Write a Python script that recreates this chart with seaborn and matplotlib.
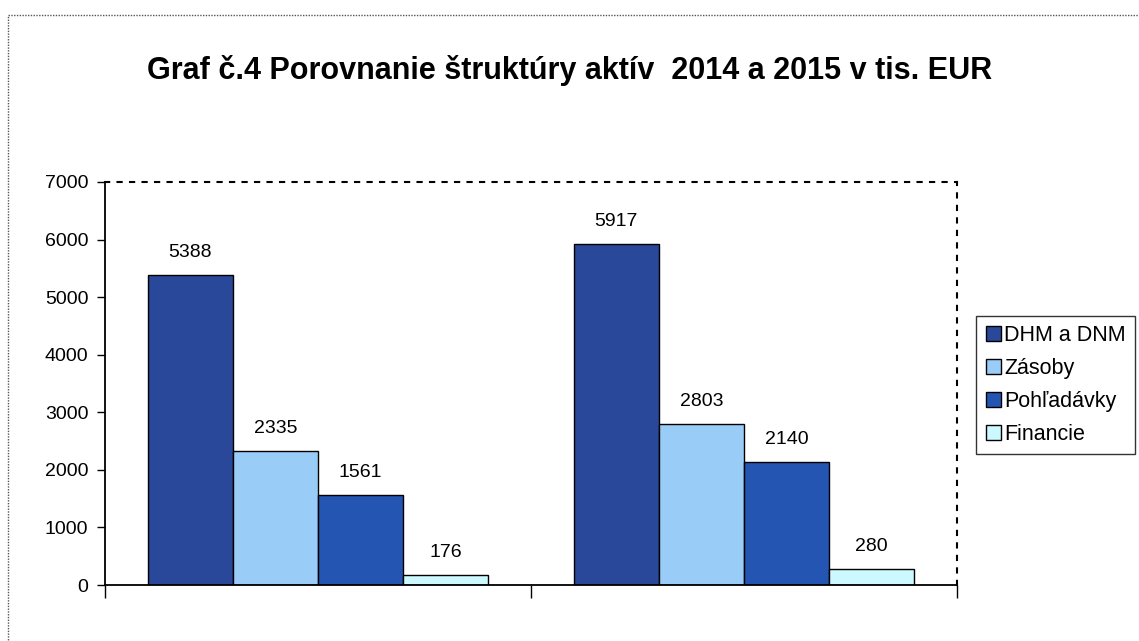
import pandas as pd
import seaborn as sns
import matplotlib.pyplot as plt
from matplotlib.patches import Rectangle, Patch

years = ['2014', '2015']
series = ['DHM a DNM', 'Zásoby', 'Pohľadávky', 'Financie']
dhm = [5388, 5917]
zasoby = [2335, 2803]
pohladavky = [1561, 2140]
financie = [176, 280]

colors = ['#29489a', '#99ccf7', '#2455b2', '#ccf8ff']

df = pd.DataFrame({
    'rok': years * 4,
    'polozka': [s for s in series for _ in years],
    'hodnota': dhm + zasoby + pohladavky + financie,
})

sns.set_style('white')
plt.rcParams['font.family'] = ['Liberation Sans', 'DejaVu Sans']
plt.rcParams['text.color'] = 'black'
plt.rcParams['xtick.color'] = 'black'
plt.rcParams['ytick.color'] = 'black'

fig = plt.figure(figsize=(11.39, 6.41), dpi=100)
ax = fig.add_axes([105 / 1139, 1 - 585 / 641, 852 / 1139, 403 / 641])

sns.barplot(data=df, x='rok', y='hodnota', hue='polozka', hue_order=series,
            palette=colors, width=0.8, edgecolor='black', linewidth=1,
            saturation=1, ax=ax, legend=False)

for cont in ax.containers:
    ax.bar_label(cont, padding=10, fontsize=14, color='black')

ax.set_xlim(-0.5, 1.5)
ax.set_ylim(0, 7000)
ax.set_yticks(range(0, 7001, 1000))
ax.tick_params(axis='y', labelsize=14, length=6, width=1, direction='out',
               left=True, color='black', labelcolor='black', pad=6)
ax.set_xticks([-0.5, 0.5, 1.5])
ax.set_xticklabels([])
ax.tick_params(axis='x', length=9, width=1, direction='out', bottom=True, color='black')
ax.set_xlabel('')
ax.set_ylabel('')

for side in ['left', 'bottom']:
    ax.spines[side].set_color('black')
    ax.spines[side].set_linewidth(1.3)
for side in ['top', 'right']:
    ax.spines[side].set_visible(True)
    ax.spines[side].set_color('black')
    ax.spines[side].set_linewidth(1.5)
    ax.spines[side].set_linestyle((0, (2, 4)))

handles = [Patch(facecolor=c, edgecolor='black', linewidth=1) for c in colors]
leg = fig.legend(handles, series, loc='center left',
                 bbox_to_anchor=(976 / 1139, 1 - 385 / 641), fontsize=15.5,
                 handlelength=0.7, handleheight=0.7, handletextpad=0.15,
                 labelspacing=0.55, borderpad=0.45, borderaxespad=0,
                 fancybox=False, frameon=True)
leg.get_frame().set_edgecolor('black')
leg.get_frame().set_linewidth(1)
for t in leg.get_texts():
    t.set_color('black')

fig.text(0.5, 1 - 70 / 641, 'Graf č.4 Porovnanie štruktúry aktív  2014 a 2015 v tis. EUR',
         ha='center', va='center', fontsize=22, fontweight='bold', color='black')

border = Rectangle((8 / 1139, -0.02), 1.1, 1 - 15 / 641 + 0.02, transform=fig.transFigure,
                   fill=False, edgecolor='#555555', linewidth=1, linestyle=(0, (1, 1)))
fig.add_artist(border)

fig.savefig('out.png', dpi=100)
